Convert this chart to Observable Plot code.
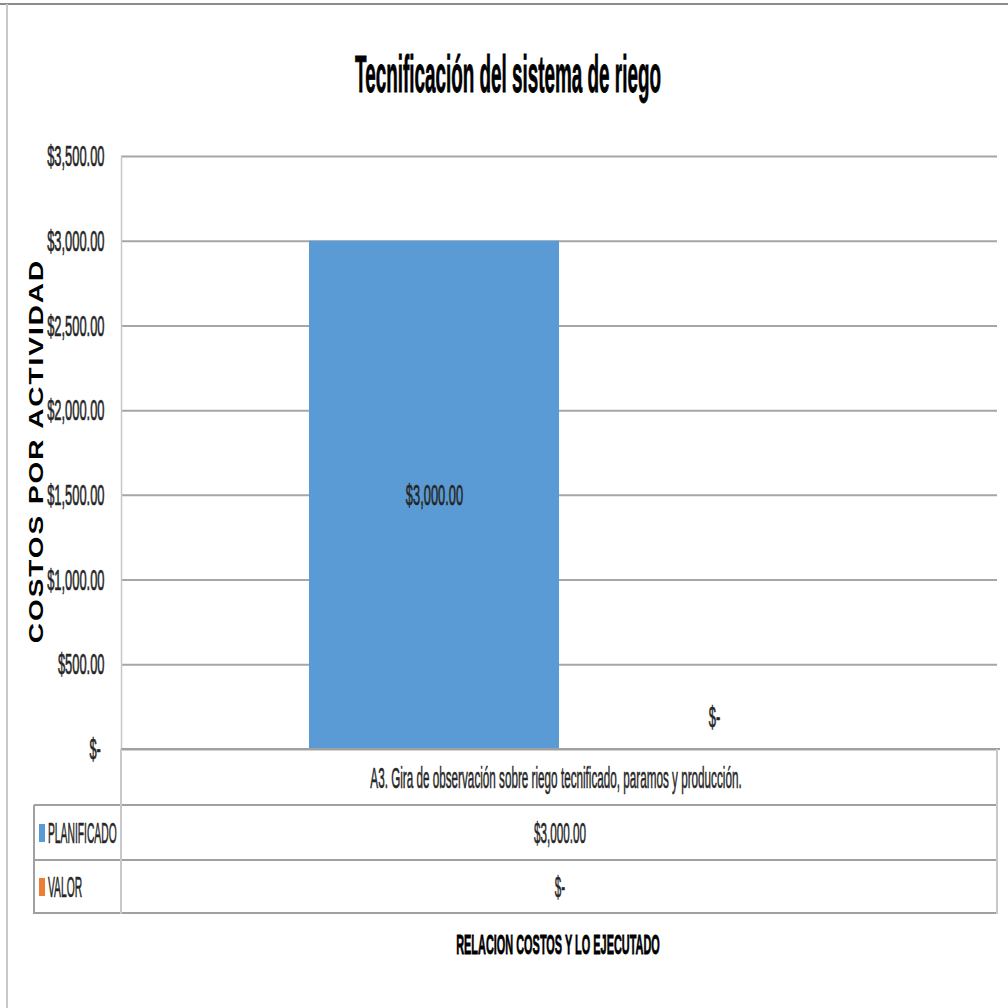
<!DOCTYPE html>
<html>
<head>
<meta charset="utf-8">
<script src="https://cdn.jsdelivr.net/npm/d3@7"></script>
<script src="https://cdn.jsdelivr.net/npm/@observablehq/plot@0.6"></script>
<style>
  html, body { margin: 0; padding: 0; background: #fff; }
  #wrap { position: relative; width: 1008px; height: 1008px; overflow: hidden; background: #fff;
          font-family: "Liberation Sans", Arial, sans-serif; }
  #wrap svg { position: absolute; left: 0; top: 0; }
  .lbl { position: absolute; white-space: nowrap; line-height: 1; display: inline-block; }
  .ln { position: absolute; }
</style>
</head>
<body>
<div id="wrap"></div>
<script>
// ---- data ----
const chartTitle = "Tecnificación del sistema de riego";
const category = "A3. Gira de observación sobre riego tecnificado, paramos y producción.";
const series = ["PLANIFICADO", "VALOR"];
const values = [3000, 0];
const seriesColors = ["#5b9bd5", "#ed7d31"];
const yTicks = [0, 500, 1000, 1500, 2000, 2500, 3000, 3500];
const yTitle = "COSTOS POR ACTIVIDAD";
const xTitle = "RELACION COSTOS Y LO EJECUTADO";

const money = v => v === 0 ? "$-" : "$" + d3.format(",.2f")(v);
const data = series.map((s, i) => ({series: s, value: values[i]}));

const wrap = document.getElementById("wrap");
const textColor = "#262626";

// ---- chart ----
const chart = Plot.plot({
  width: 1008,
  height: 760,
  marginTop: 156,
  marginBottom: 11,
  marginLeft: 121,
  marginRight: 11,
  style: {fontFamily: "Liberation Sans, Arial, sans-serif", fontSize: "30px", color: textColor, background: "transparent", overflow: "visible"},
  x: {domain: series, paddingInner: 0, paddingOuter: 0.752, axis: null},
  y: {domain: [0, 3500], axis: null},
  color: {domain: series, range: seriesColors},
  marks: [
    Plot.gridY(yTicks, {stroke: "#a6a6a6", strokeOpacity: 1, strokeWidth: 2}),
    Plot.frame({anchor: "left", stroke: "#c8c8c8", strokeWidth: 1.5}),
    Plot.barY(data, {x: "series", y: "value", fill: "series"}),
    Plot.axisY(yTicks, {tickSize: 0, tickPadding: 17, tickFormat: v => v === 0 ? "$-\u00a0" : money(v), label: null, fill: textColor, fontSize: 30}),
    Plot.text(data.filter(d => d.value > 0), {x: "series", y: d => d.value / 2, text: d => money(d.value), fill: textColor, fontSize: 30}),
    Plot.text(data.filter(d => d.value === 0), {x: "series", y: "value", text: d => money(d.value), dy: -32, dx: 30, fill: textColor, fontSize: 30})
  ]
});
wrap.appendChild(chart);

// condense all Plot texts horizontally (narrow Calibri-like look)
chart.querySelectorAll("text").forEach(t => {
  const x = parseFloat(t.getAttribute("x")) || 0;
  const y = parseFloat(t.getAttribute("y")) || 0;
  const tr = t.getAttribute("transform") || "";
  t.setAttribute("transform", `${tr} translate(${x},${y}) scale(0.43,1) translate(${-x},${-y})`);
  t.setAttribute("stroke", textColor);
  t.setAttribute("stroke-width", "0.7");
});

// ---- helpers for surrounding elements ----
function line(x1, y1, x2, y2, color, w) {
  const d = document.createElement("div");
  d.className = "ln";
  if (y1 === y2) {
    Object.assign(d.style, {left: x1 + "px", top: (y1 - w / 2) + "px", width: (x2 - x1) + "px", height: w + "px", background: color});
  } else {
    Object.assign(d.style, {left: (x1 - w / 2) + "px", top: y1 + "px", width: w + "px", height: (y2 - y1) + "px", background: color});
  }
  wrap.appendChild(d);
}
function label(text, x, y, o) {
  const s = document.createElement("span");
  s.className = "lbl";
  s.textContent = text;
  const sx = o.sx || 1;
  let tf, origin;
  if (o.anchor === "start") { tf = `translate(0,-50%) scaleX(${sx})`; origin = "0 50%"; }
  else if (o.rotate) { tf = `translate(-50%,-50%) rotate(${o.rotate}deg) scaleX(${sx})`; origin = "50% 50%"; }
  else { tf = `translate(-50%,-50%) scaleX(${sx})`; origin = "50% 50%"; }
  Object.assign(s.style, {
    left: x + "px", top: y + "px", fontSize: o.size + "px", fontWeight: o.weight || "normal",
    color: o.color || textColor, transform: tf, transformOrigin: origin,
    letterSpacing: (o.ls || 0) + "px"
  });
  if (o.stroke) s.style.webkitTextStroke = o.stroke + "px currentColor";
  wrap.appendChild(s);
  return s;
}

// outer chart-area border
line(0, 4, 1008, 4, "#8c8c8c", 2);
line(7, 4, 7, 1008, "#c8c8c8", 1.5);

// title
label(chartTitle, 508, 74, {size: 52, weight: "bold", sx: 0.363, color: "#000", stroke: 0.8});

// y axis title
label(yTitle, 35, 451, {size: 21, weight: "bold", sx: 1.33, rotate: -90, ls: 1.5, color: "#000"});

// data table
const rowTops = [749, 805, 860, 913];
line(121, 749, 1000, 749, "#a0a0a0", 2);
line(34, 805, 998, 805, "#a0a0a0", 2);
line(34, 860, 998, 860, "#a0a0a0", 2);
line(34, 913, 998, 913, "#a0a0a0", 2);
line(121, 749, 121, 914, "#c8c8c8", 1.5);
line(34, 805, 34, 914, "#a0a0a0", 1.5);
line(997, 749, 997, 914, "#c8c8c8", 1.5);

label(category, 556, 778, {size: 30, sx: 0.39, stroke: 0.6});
series.forEach((s, i) => {
  const cy = (rowTops[i + 1] + rowTops[i + 2]) / 2;
  const key = document.createElement("div");
  Object.assign(key.style, {position: "absolute", left: "39px", top: (cy - 9) + "px", width: "6px", height: "18px", background: seriesColors[i]});
  wrap.appendChild(key);
  label(s, 48, cy, {size: 29, sx: 0.355, anchor: "start", stroke: 0.6});
  label(money(values[i]), 560, cy, {size: 30, sx: 0.39, stroke: 0.6});
});

// x axis title
label(xTitle, 558, 945, {size: 28, weight: "bold", sx: 0.39, color: "#000", stroke: 0.8});
</script>
</body>
</html>
